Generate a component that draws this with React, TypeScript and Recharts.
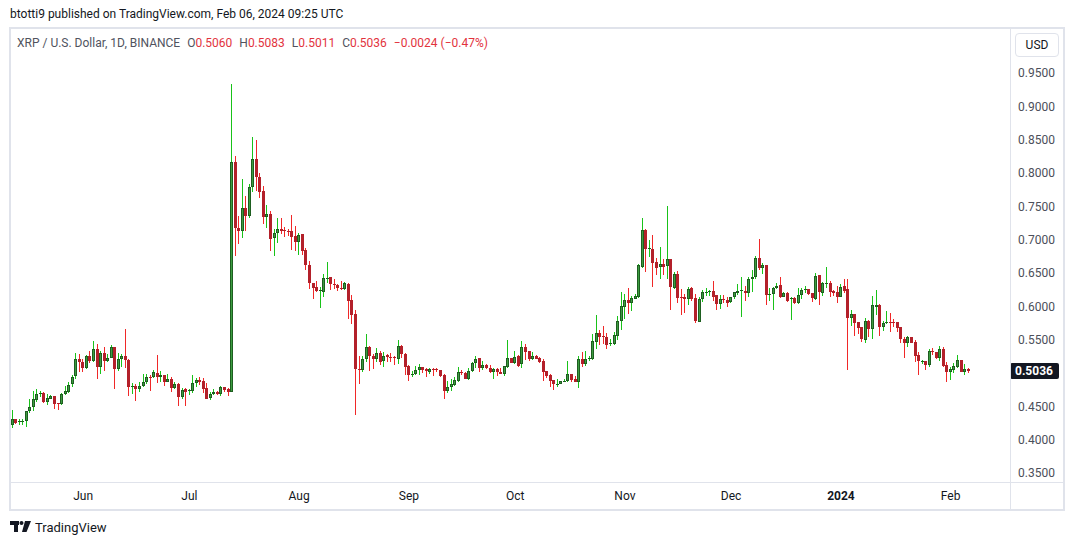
import React from 'react';
import { ComposedChart, Bar, XAxis, YAxis, ReferenceLine } from 'recharts';

// Daily XRP/USD candles, day 0 = 2023-05-12
const startDate = '2023-05-12';

const opens = [
  0.422,0.431,0.427,0.428,0.428,0.443,0.449,0.46,0.469,0.471,
  0.4575,0.462,0.466,0.455,0.4535,0.4685,0.4725,0.4835,0.496,0.521,
  0.5175,0.5075,0.526,0.5185,0.536,0.51,0.53,0.519,0.5235,0.539,
  0.507,0.521,0.526,0.52,0.48,0.481,0.476,0.481,0.4865,0.494,
  0.494,0.5,0.494,0.4975,0.4875,0.4915,0.4785,0.484,0.465,0.476,
  0.474,0.474,0.485,0.49,0.4885,0.4775,0.4625,0.4685,0.4725,0.4685,
  0.479,0.476,0.4715,0.8165,0.7185,0.714,0.7475,0.7365,0.779,0.821,
  0.795,0.7735,0.734,0.739,0.7025,0.71,0.716,0.715,0.714,0.7135,
  0.706,0.6975,0.709,0.685,0.6625,0.635,0.629,0.624,0.6225,0.6425,
  0.644,0.6335,0.6325,0.6275,0.626,0.634,0.61,0.589,0.5065,0.5055,
  0.521,0.539,0.526,0.521,0.53,0.5185,0.5275,0.524,0.5245,0.5215,
  0.541,0.529,0.511,0.498,0.4985,0.505,0.509,0.506,0.5025,0.5065,
  0.506,0.505,0.4975,0.474,0.48,0.4825,0.489,0.502,0.501,0.4915,
  0.5035,0.515,0.5225,0.5075,0.5125,0.5075,0.5025,0.506,0.5015,0.4995,
  0.51,0.5225,0.515,0.526,0.5135,0.539,0.5335,0.5215,0.526,0.5225,
  0.5185,0.5035,0.4975,0.49,0.4835,0.4845,0.488,0.489,0.4985,0.4915,
  0.4875,0.5215,0.514,0.522,0.5215,0.5475,0.56,0.556,0.554,0.5435,
  0.544,0.5565,0.5785,0.6,0.61,0.606,0.6115,0.615,0.66,0.715,
  0.686,0.6865,0.6665,0.66,0.664,0.6615,0.6715,0.6285,0.6485,0.614,
  0.615,0.6115,0.6275,0.6125,0.5775,0.6115,0.621,0.6215,0.6235,0.6175,
  0.6035,0.6115,0.61,0.6065,0.614,0.621,0.6235,0.6235,0.621,0.641,
  0.644,0.6725,0.6585,0.6625,0.6175,0.6185,0.6285,0.6325,0.615,0.62,
  0.6115,0.6125,0.605,0.617,0.6255,0.6265,0.62,0.6115,0.6475,0.621,
  0.6345,0.635,0.6235,0.6225,0.615,0.631,0.6265,0.5825,0.589,0.5765,
  0.569,0.5505,0.5785,0.5665,0.6,0.6025,0.57,0.575,0.5765,0.5765,
  0.5765,0.569,0.5515,0.545,0.554,0.5465,0.5275,0.518,0.5185,0.5125,
  0.534,0.5315,0.5235,0.5365,0.5125,0.5025,0.505,0.51,0.52,0.5025,
  0.506,
];

const highs = [
  0.445,0.432,0.432,0.431,0.443,0.461,0.4735,0.4765,0.4735,0.4725,
  0.4685,0.4675,0.466,0.456,0.471,0.481,0.4875,0.4975,0.53,0.529,
  0.521,0.5275,0.5335,0.5485,0.5435,0.5335,0.539,0.5285,0.5425,0.539,
  0.53,0.5285,0.5665,0.521,0.485,0.484,0.4875,0.499,0.499,0.4975,
  0.505,0.5275,0.5035,0.4975,0.499,0.494,0.4865,0.486,0.4775,0.4775,
  0.476,0.4975,0.4925,0.495,0.4925,0.486,0.4715,0.4765,0.4735,0.481,
  0.479,0.4785,0.934,0.826,0.736,0.7915,0.766,0.784,0.854,0.85,
  0.8,0.781,0.7525,0.7435,0.7165,0.7325,0.7325,0.719,0.716,0.7375,
  0.721,0.71,0.709,0.6875,0.6685,0.636,0.6385,0.629,0.6485,0.6665,
  0.644,0.6415,0.6335,0.6385,0.6365,0.635,0.6175,0.595,0.526,0.526,
  0.559,0.541,0.5285,0.5375,0.5335,0.5315,0.529,0.53,0.5265,0.55,
  0.5425,0.531,0.5125,0.504,0.511,0.514,0.509,0.5075,0.5075,0.5075,
  0.5075,0.505,0.499,0.4885,0.491,0.495,0.509,0.505,0.5015,0.5075,
  0.5175,0.526,0.5235,0.5185,0.514,0.5125,0.5075,0.5075,0.5075,0.511,
  0.55,0.5225,0.5335,0.5275,0.5485,0.5435,0.5335,0.5315,0.5275,0.524,
  0.5215,0.5035,0.499,0.49,0.4915,0.4885,0.4915,0.5185,0.4985,0.496,
  0.526,0.5325,0.5335,0.526,0.5585,0.5875,0.565,0.571,0.561,0.5515,
  0.5625,0.5865,0.6225,0.619,0.6275,0.616,0.619,0.664,0.7335,0.716,
  0.7,0.7075,0.6725,0.689,0.6715,0.751,0.6715,0.6515,0.6535,0.626,
  0.6185,0.629,0.629,0.619,0.614,0.625,0.6275,0.625,0.6385,0.6175,
  0.6175,0.6175,0.614,0.615,0.6225,0.634,0.644,0.631,0.644,0.655,
  0.676,0.7015,0.665,0.6625,0.6285,0.629,0.635,0.644,0.6225,0.6225,
  0.614,0.615,0.6285,0.6275,0.6315,0.6265,0.621,0.65,0.6475,0.6375,
  0.659,0.639,0.625,0.631,0.634,0.6415,0.641,0.595,0.589,0.5765,
  0.57,0.5825,0.58,0.616,0.625,0.604,0.5785,0.594,0.591,0.581,
  0.5765,0.57,0.555,0.556,0.555,0.55,0.5315,0.52,0.519,0.5365,
  0.5375,0.5325,0.541,0.539,0.5175,0.51,0.515,0.5275,0.52,0.514,
  0.5083,
];

const lows = [
  0.4175,0.424,0.423,0.423,0.42,0.44,0.444,0.4575,0.464,0.456,
  0.452,0.461,0.447,0.445,0.4525,0.4675,0.471,0.48,0.491,0.5025,
  0.5025,0.506,0.515,0.5175,0.491,0.4985,0.504,0.5175,0.5225,0.476,
  0.504,0.51,0.5075,0.4665,0.4685,0.459,0.4715,0.48,0.484,0.474,
  0.4925,0.486,0.4865,0.481,0.4865,0.4725,0.476,0.4515,0.4615,0.4515,
  0.4675,0.471,0.48,0.4825,0.471,0.4615,0.46,0.4675,0.4675,0.466,
  0.4725,0.4665,0.4715,0.676,0.694,0.7035,0.714,0.7335,0.7725,0.7735,
  0.7625,0.7235,0.7175,0.684,0.6765,0.695,0.7085,0.704,0.706,0.685,
  0.6835,0.6775,0.6775,0.655,0.6265,0.6115,0.6215,0.5985,0.614,0.636,
  0.625,0.626,0.624,0.625,0.625,0.5815,0.574,0.4375,0.484,0.5025,
  0.5175,0.504,0.506,0.5175,0.5125,0.51,0.5175,0.5175,0.5125,0.514,
  0.5235,0.4975,0.489,0.494,0.4975,0.4975,0.501,0.494,0.4985,0.496,
  0.5025,0.495,0.4615,0.471,0.474,0.481,0.4875,0.4975,0.4915,0.49,
  0.5015,0.5075,0.5025,0.505,0.506,0.501,0.4915,0.4965,0.4985,0.4965,
  0.5075,0.515,0.514,0.509,0.5085,0.52,0.519,0.52,0.5215,0.516,
  0.489,0.4925,0.48,0.475,0.48,0.4845,0.4865,0.4875,0.4865,0.4875,
  0.4785,0.509,0.5115,0.519,0.52,0.536,0.5425,0.5435,0.5365,0.5415,
  0.5425,0.55,0.565,0.5815,0.5885,0.594,0.611,0.613,0.658,0.6525,
  0.675,0.63,0.6475,0.6415,0.6475,0.6415,0.595,0.6265,0.606,0.5875,
  0.591,0.6025,0.609,0.576,0.5775,0.6075,0.6165,0.6165,0.609,0.595,
  0.5965,0.606,0.6,0.605,0.6115,0.6175,0.585,0.609,0.614,0.6225,
  0.641,0.655,0.6485,0.6025,0.609,0.595,0.6265,0.6125,0.614,0.6075,
  0.58,0.604,0.604,0.611,0.621,0.6175,0.6075,0.61,0.6025,0.616,
  0.6275,0.615,0.616,0.606,0.614,0.621,0.505,0.5715,0.556,0.559,
  0.5465,0.5455,0.554,0.5515,0.5875,0.556,0.5635,0.5735,0.5625,0.57,
  0.5625,0.545,0.5235,0.54,0.545,0.5175,0.4975,0.5135,0.505,0.51,
  0.5275,0.5215,0.519,0.509,0.4875,0.49,0.5,0.5075,0.5025,0.4975,
  0.5011,
];

const closes = [
  0.431,0.425,0.428,0.429,0.443,0.449,0.461,0.4685,0.47,0.4575,
  0.4625,0.466,0.4535,0.4545,0.469,0.4735,0.4825,0.495,0.521,0.5175,
  0.5075,0.526,0.519,0.536,0.509,0.53,0.519,0.5235,0.539,0.507,
  0.521,0.526,0.52,0.48,0.481,0.476,0.481,0.4875,0.494,0.4935,
  0.5015,0.494,0.4975,0.4875,0.4915,0.4785,0.484,0.465,0.475,0.4725,
  0.475,0.485,0.49,0.4875,0.4765,0.4615,0.4685,0.4715,0.4685,0.479,
  0.475,0.4715,0.8165,0.7185,0.714,0.7475,0.7365,0.779,0.821,0.795,
  0.7725,0.734,0.7385,0.7015,0.71,0.716,0.714,0.714,0.7125,0.705,
  0.6975,0.7075,0.684,0.6625,0.635,0.6285,0.624,0.625,0.6425,0.643,
  0.6335,0.633,0.6275,0.626,0.635,0.609,0.5875,0.5065,0.5055,0.5215,
  0.539,0.526,0.521,0.53,0.5175,0.526,0.524,0.5235,0.5235,0.541,
  0.529,0.51,0.4975,0.499,0.505,0.509,0.505,0.504,0.5065,0.5055,
  0.505,0.4965,0.474,0.48,0.484,0.49,0.5015,0.501,0.4915,0.5035,
  0.515,0.5215,0.5075,0.5125,0.5075,0.5025,0.506,0.5025,0.4995,0.511,
  0.5225,0.515,0.524,0.511,0.539,0.5325,0.5215,0.526,0.5215,0.5175,
  0.5025,0.4965,0.489,0.4835,0.4845,0.4885,0.489,0.4985,0.49,0.4875,
  0.5215,0.514,0.5215,0.523,0.5485,0.56,0.555,0.555,0.5425,0.546,
  0.5575,0.5785,0.601,0.61,0.606,0.6125,0.616,0.6625,0.715,0.686,
  0.6875,0.666,0.6585,0.664,0.66,0.6715,0.63,0.6485,0.6125,0.6125,
  0.611,0.626,0.6115,0.579,0.611,0.6215,0.622,0.6235,0.615,0.604,
  0.6115,0.6105,0.606,0.614,0.6215,0.6235,0.6245,0.621,0.641,0.644,
  0.6725,0.6585,0.6625,0.6175,0.6185,0.6275,0.6315,0.615,0.62,0.609,
  0.6125,0.605,0.617,0.625,0.6265,0.619,0.6135,0.6465,0.6225,0.635,
  0.6355,0.6225,0.62,0.615,0.63,0.6235,0.5835,0.589,0.576,0.5685,
  0.5515,0.5785,0.5665,0.6025,0.6025,0.57,0.575,0.5765,0.5755,0.5755,
  0.5685,0.5515,0.545,0.554,0.546,0.5265,0.5185,0.519,0.5125,0.5335,
  0.533,0.5235,0.5365,0.5115,0.5025,0.5065,0.511,0.52,0.5025,0.506,
  0.5036,
];

const monthTickDays = [20, 50, 81, 112, 142, 173, 203, 234, 265];
const monthLabels = ['Jun', 'Jul', 'Aug', 'Sep', 'Oct', 'Nov', 'Dec', '2024', 'Feb'];
// 0.5000 is hidden behind the last-price tag in the reference
const priceTicks = [0.35, 0.4, 0.45, 0.55, 0.6, 0.65, 0.7, 0.75, 0.8, 0.85, 0.9, 0.95];

const rows = opens.map((o, i) => ({
  day: i,
  o,
  h: highs[i],
  l: lows[i],
  c: closes[i],
  range: [lows[i], highs[i]],
}));

const lastIdx = closes.length - 1;
const lastClose = closes[lastIdx];
const lastOpen = opens[lastIdx];
const lastChange = lastClose - closes[lastIdx - 1];
const lastPct = (lastChange / closes[lastIdx - 1]) * 100;

const UP_WICK = '#19c219';
const UP_BORDER = '#1e5e20';
const UP_BODY = '#3c9c40';
const DN_WICK = '#f02828';
const DN_BORDER = '#b3202a';
const DN_BODY = '#b3202a';

const Candle = (props: any) => {
  const { x, y, width, height, payload } = props;
  if (x == null || y == null || !payload) return null;
  const { o, h, l, c } = payload;
  const top = Math.min(y, y + height);
  const hgt = Math.abs(height);
  const px = (v: number) => (h === l ? top : top + ((h - v) / (h - l)) * hgt);
  const cx = x + width / 2;
  const col = Math.round(cx - 0.5);
  const up = c >= o;
  const yO = px(o);
  const yC = px(c);
  const bTop = Math.round(Math.min(yO, yC));
  const bBot = Math.round(Math.max(yO, yC));
  const bh = Math.max(1, bBot - bTop);
  const wTop = Math.round(top);
  const wH = Math.max(1, Math.round(top + hgt) - wTop);
  return (
    <g>
      <rect x={col} y={wTop} width={1} height={wH} fill={up ? UP_WICK : DN_WICK} />
      <rect x={col - 1} y={bTop} width={3} height={bh} fill={up ? UP_BORDER : DN_BORDER} />
      {bh > 2 && (
        <rect x={col} y={bTop + 1} width={1} height={bh - 2} fill={up ? UP_BODY : DN_BODY} />
      )}
    </g>
  );
};

const MonthTick = (props: any) => {
  const { x, y, payload } = props;
  const idx = monthTickDays.indexOf(payload.value);
  const label = idx >= 0 ? monthLabels[idx] : '';
  const isYear = /^\d{4}$/.test(label);
  return (
    <text
      x={x}
      y={y + 14}
      textAnchor="middle"
      dominantBaseline="central"
      fontFamily="Roboto, 'Noto Sans', sans-serif"
      fontSize={12}
      fontWeight={isYear ? 700 : 400}
      fill="#131722"
    >
      {label}
    </text>
  );
};

const PriceTick = (props: any) => {
  const { x, y, payload } = props;
  return (
    <text
      x={x}
      y={y}
      textAnchor="start"
      dominantBaseline="central"
      fontFamily="Roboto, 'Noto Sans', sans-serif"
      fontSize={12}
      fill="#4c4f5a"
    >
      {Number(payload.value).toFixed(4)}
    </text>
  );
};

const LastPriceTag = (props: any) => {
  const vb = props.viewBox || {};
  const x0 = (vb.x ?? 0) + (vb.width ?? 0);
  const yy = vb.y ?? 0;
  return (
    <g>
      <rect x={x0} y={yy - 8} width={49} height={16} rx={2} fill="#131722" />
      <text
        x={x0 + 5}
        y={yy}
        dominantBaseline="central"
        fontFamily="Roboto, 'Noto Sans', sans-serif"
        fontSize={12}
        fontWeight={700}
        fill="#ffffff"
      >
        {lastClose.toFixed(4)}
      </text>
    </g>
  );
};

const RED = '#e2333d';
const GRAY = '#50535e';
const FRAME = '#e0e3eb';

const signed = (v: number, d: number) => (v < 0 ? '\u2212' : '') + Math.abs(v).toFixed(d);

export default function App() {
  return (
    <div
      style={{
        position: 'relative',
        width: 1074,
        height: 545,
        background: '#ffffff',
        fontFamily: "Roboto, 'Noto Sans', sans-serif",
        overflow: 'hidden',
      }}
    >
      <style>{'body{margin:0;background:#fff}'}</style>
      <div
        style={{
          position: 'absolute',
          left: 10,
          top: 5,
          fontSize: 12,
          lineHeight: '18px',
          color: '#131722',
          whiteSpace: 'nowrap',
        }}
      >
        btotti9 published on TradingView.com, Feb 06, 2024 09:25 UTC
      </div>

      <ComposedChart
        width={1074}
        height={545}
        data={rows}
        margin={{ top: 28, right: 10, bottom: 35, left: 10 }}
        style={{ position: 'absolute', left: 0, top: 0 }}
      >
        <XAxis
          type="number"
          dataKey="day"
          domain={[-0.65, 281.75]}
          allowDataOverflow
          ticks={monthTickDays}
          interval={0}
          height={28}
          tickLine={false}
          axisLine={false}
          tickSize={0}
          tickMargin={0}
          tick={<MonthTick />}
        />
        <YAxis
          type="number"
          orientation="right"
          domain={[0.337, 1.018]}
          allowDataOverflow
          ticks={priceTicks}
          interval={0}
          width={54}
          tickLine={false}
          axisLine={false}
          tickSize={0}
          tickMargin={8}
          tick={<PriceTick />}
        />
        <Bar dataKey="range" barSize={3} shape={(p: any) => <Candle {...p} />} isAnimationActive={false} />
        <ReferenceLine y={lastClose} stroke="none" label={(p: any) => <LastPriceTag {...p} />} />
      </ComposedChart>

      {/* frame */}
      <div
        style={{
          position: 'absolute',
          left: 9,
          top: 27,
          width: 1052,
          height: 480,
          border: `2px solid ${FRAME}`,
          pointerEvents: 'none',
        }}
      />
      <div style={{ position: 'absolute', left: 1010, top: 28, width: 1, height: 482, background: FRAME }} />
      <div style={{ position: 'absolute', left: 10, top: 482, width: 1053, height: 1, background: FRAME }} />

      {/* legend line */}
      <div
        style={{
          position: 'absolute',
          left: 17,
          top: 34,
          fontSize: 12,
          lineHeight: '18px',
          color: GRAY,
          whiteSpace: 'nowrap',
        }}
      >
        <span>XRP / U.S. Dollar, 1D, BINANCE</span>
        <span style={{ marginLeft: 7 }}>O</span>
        <span style={{ color: RED }}>{lastOpen.toFixed(4)}</span>
        <span style={{ marginLeft: 7 }}>H</span>
        <span style={{ color: RED }}>{highs[lastIdx].toFixed(4)}</span>
        <span style={{ marginLeft: 7 }}>L</span>
        <span style={{ color: RED }}>{lows[lastIdx].toFixed(4)}</span>
        <span style={{ marginLeft: 7 }}>C</span>
        <span style={{ color: RED }}>{lastClose.toFixed(4)}</span>
        <span style={{ marginLeft: 7, color: RED }}>
          {signed(lastChange, 4)} ({signed(lastPct, 2)}%)
        </span>
      </div>

      {/* currency box */}
      <div
        style={{
          position: 'absolute',
          left: 1015,
          top: 33,
          width: 42,
          height: 22,
          border: `1px solid ${FRAME}`,
          borderRadius: 4,
          fontSize: 12,
          lineHeight: '22px',
          textAlign: 'center',
          color: '#131722',
        }}
      >
        USD
      </div>

      {/* footer logo */}
      <div style={{ position: 'absolute', left: 10, top: 519, height: 16, display: 'flex', alignItems: 'center' }}>
        <svg width={22} height={12} viewBox="0 0 22 12">
          <rect x={0} y={0} width={9} height={4} fill="#131722" />
          <rect x={4} y={0} width={4} height={11} fill="#131722" />
          <circle cx={11.5} cy={2} r={2} fill="#131722" />
          <polygon points="15,0 21,0 16.5,11 12,11" fill="#131722" />
        </svg>
        <span style={{ marginLeft: 3, fontSize: 13, color: '#131722' }}>TradingView</span>
      </div>
    </div>
  );
}

export { startDate };
